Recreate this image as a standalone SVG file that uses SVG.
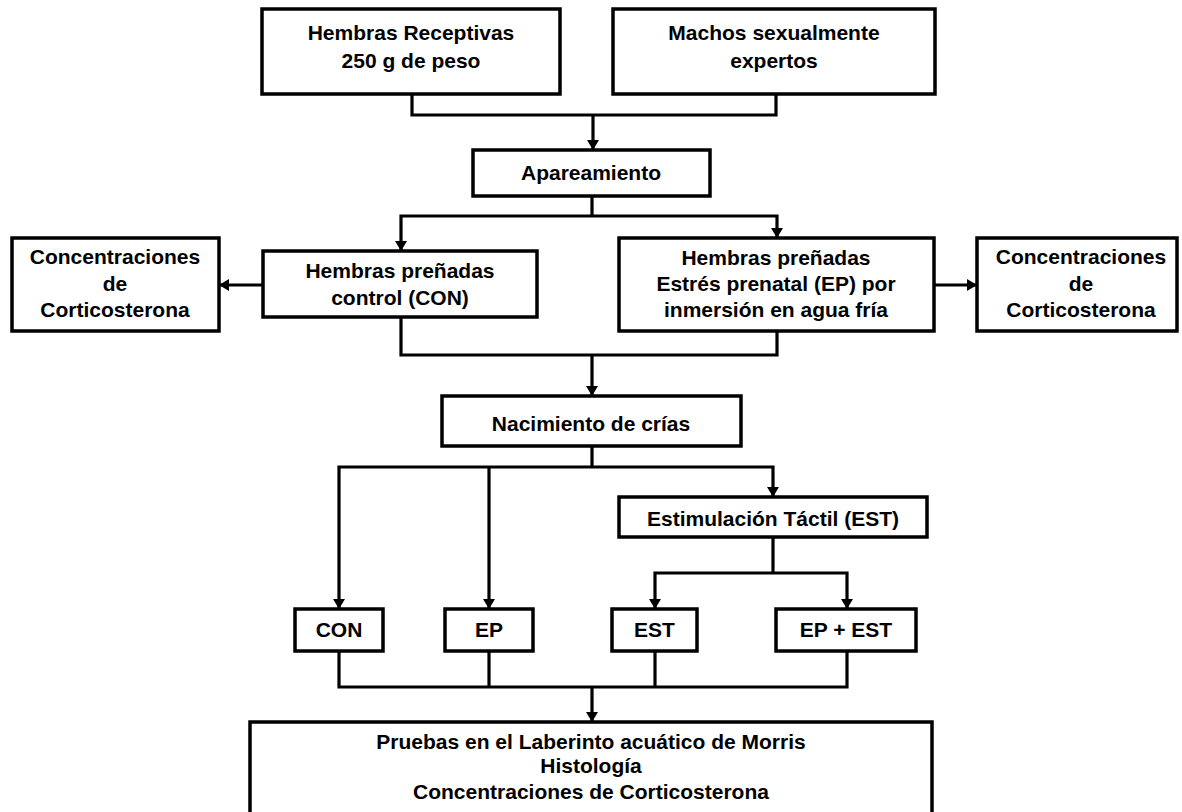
<svg xmlns="http://www.w3.org/2000/svg" width="1182" height="812" viewBox="0 0 1182 812">
<style>
.box{fill:#fff;stroke:#000;stroke-width:3.5}
.t{font-family:"Liberation Sans",Arial,sans-serif;font-weight:bold;font-size:21px;text-anchor:middle;fill:#000}
.c{fill:none;stroke:#000;stroke-width:3.2;stroke-linejoin:miter}
.a{marker-end:url(#arr)}
</style>
<defs>
<marker id="arr" viewBox="0 0 10 12" markerWidth="10" markerHeight="12" refX="10" refY="6" orient="auto" markerUnits="userSpaceOnUse">
<path d="M0,0 L10,6 L0,12 z" fill="#000"/>
</marker>
</defs>
<rect width="1182" height="812" fill="#fff"/>
<g id="connectors">
<path class="c" d="M412,94 V115 H776 V94"/>
<path class="c a" d="M593,115 V150"/>
<path class="c" d="M592,196 V216"/>
<path class="c a" d="M592,216 H401 V251"/>
<path class="c a" d="M592,216 H777 V238"/>
<path class="c a" d="M263,285 H219"/>
<path class="c a" d="M934,285 H977"/>
<path class="c" d="M401,317 V355 H777 V331"/>
<path class="c a" d="M592,355 V396"/>
<path class="c" d="M592,446 V467"/>
<path class="c a" d="M592,467 H339 V609"/>
<path class="c a" d="M489,467 V609"/>
<path class="c a" d="M592,467 H773 V497"/>
<path class="c" d="M773,537 V573"/>
<path class="c a" d="M773,573 H655 V609"/>
<path class="c a" d="M773,573 H847 V609"/>
<path class="c" d="M339,651 V687 H847 V651"/>
<path class="c" d="M489,651 V687"/>
<path class="c" d="M655,651 V687"/>
<path class="c a" d="M592,687 V722"/>
</g>
<g id="n1"><rect class="box" x="262" y="9" width="298" height="85"/>
<text class="t" x="411" y="40">Hembras Receptivas</text><text class="t" x="411" y="68">250 g de peso</text></g>
<g id="n2"><rect class="box" x="613" y="9" width="322" height="85"/>
<text class="t" x="774" y="40">Machos sexualmente</text><text class="t" x="774" y="68">expertos</text></g>
<g id="n3"><rect class="box" x="473" y="150" width="237" height="46"/>
<text class="t" x="591" y="180">Apareamiento</text></g>
<g id="n4"><rect class="box" x="263" y="251" width="274" height="66"/>
<text class="t" x="400" y="278">Hembras preñadas</text><text class="t" x="400" y="305">control (CON)</text></g>
<g id="n5"><rect class="box" x="12" y="238" width="207" height="93"/>
<text class="t" x="115" y="264">Concentraciones</text><text class="t" x="115" y="291">de</text><text class="t" x="115" y="317">Corticosterona</text></g>
<g id="n6"><rect class="box" x="619" y="238" width="315" height="93"/>
<text class="t" x="776" y="265">Hembras preñadas</text><text class="t" x="776" y="291">Estrés prenatal (EP) por</text><text class="t" x="776" y="317">inmersión en agua fría</text></g>
<g id="n7"><rect class="box" x="977" y="238" width="200" height="93"/>
<text class="t" x="1081" y="264">Concentraciones</text><text class="t" x="1081" y="291">de</text><text class="t" x="1081" y="317">Corticosterona</text></g>
<g id="n8"><rect class="box" x="442" y="396" width="299" height="50"/>
<text class="t" x="591" y="431">Nacimiento de crías</text></g>
<g id="n9"><rect class="box" x="619" y="497" width="308" height="40"/>
<text class="t" x="773" y="526">Estimulación Táctil (EST)</text></g>
<g id="n10"><rect class="box" x="295" y="609" width="88" height="42"/>
<text class="t" x="339" y="637">CON</text></g>
<g id="n11"><rect class="box" x="445" y="609" width="88" height="42"/>
<text class="t" x="489" y="637">EP</text></g>
<g id="n12"><rect class="box" x="612" y="609" width="85" height="42"/>
<text class="t" x="654.5" y="637">EST</text></g>
<g id="n13"><rect class="box" x="776" y="609" width="140" height="42"/>
<text class="t" x="846" y="637">EP + EST</text></g>
<g id="n14"><rect class="box" x="250" y="722" width="682" height="110"/>
<text class="t" x="591" y="749">Pruebas en el Laberinto acuático de Morris</text><text class="t" x="591" y="773">Histología</text><text class="t" x="591" y="799">Concentraciones de Corticosterona</text></g>
</svg>
